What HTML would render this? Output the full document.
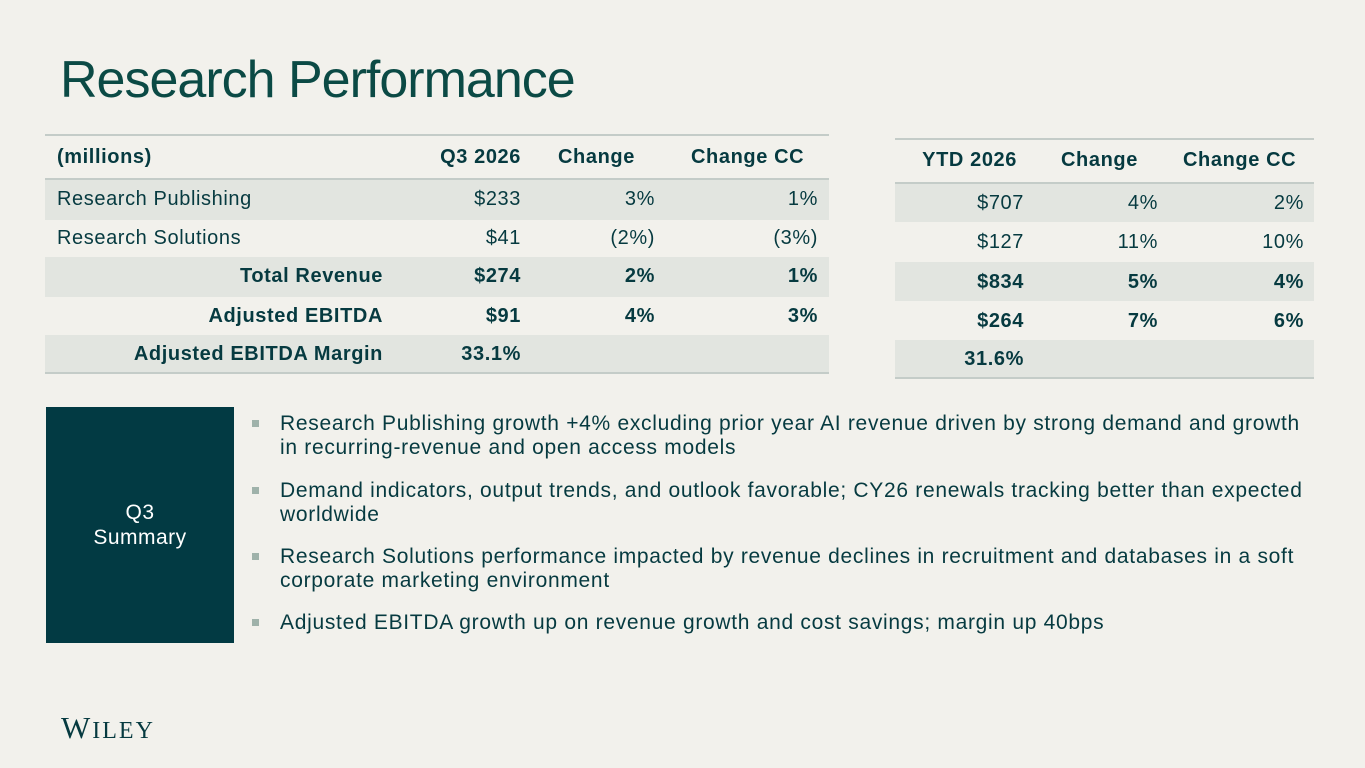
<!DOCTYPE html>
<html><head><meta charset="utf-8"><style>
body{margin:0;width:1365px;height:768px;background:#f2f1ec;font-family:"Liberation Sans",sans-serif;color:#063a40;position:relative;overflow:hidden}
.a{position:absolute}
.c{position:absolute;font-size:20px;line-height:24px;white-space:nowrap;letter-spacing:0.6px}
.r{text-align:right}
.b{font-weight:bold}
.sh{position:absolute;background:#e2e5e0}
.ln{position:absolute;height:2px;background:#c4ccc8}
.bul{position:absolute;font-size:21px;line-height:24px;color:#063a40;letter-spacing:0.7px;white-space:nowrap}
.sq{position:absolute;width:7px;height:7px;background:#9fb2aa}
</style></head><body>
<div class="a" style="left:60px;top:48px;font-size:52px;line-height:64px;color:#0b4a45;letter-spacing:-1px">Research Performance</div>

<div>
<div class="ln" style="left:45px;top:134px;width:784px"></div>
<div class="ln" style="left:45px;top:178px;width:784px"></div>
<div class="sh" style="left:45px;top:180px;width:784px;height:40px"></div>
<div class="sh" style="left:45px;top:257px;width:784px;height:40px"></div>
<div class="sh" style="left:45px;top:335px;width:784px;height:37px"></div>
<div class="ln" style="left:45px;top:372px;width:784px"></div>
<div class="c b" style="left:57px;top:145px">(millions)</div>
<div class="c b r" style="right:844px;top:145px">Q3 2026</div>
<div class="c b" style="left:558px;top:145px">Change</div>
<div class="c b" style="left:691px;top:145px">Change CC</div>
<div class="c" style="left:57px;top:187px">Research Publishing</div>
<div class="c r" style="right:844px;top:187px">$233</div>
<div class="c r" style="right:710px;top:187px">3%</div>
<div class="c r" style="right:547px;top:187px">1%</div>
<div class="c" style="left:57px;top:226px">Research Solutions</div>
<div class="c r" style="right:844px;top:226px">$41</div>
<div class="c r" style="right:710px;top:226px">(2%)</div>
<div class="c r" style="right:547px;top:226px">(3%)</div>
<div class="c b r" style="right:982px;top:264px">Total Revenue</div>
<div class="c b r" style="right:844px;top:264px">$274</div>
<div class="c b r" style="right:710px;top:264px">2%</div>
<div class="c b r" style="right:547px;top:264px">1%</div>
<div class="c b r" style="right:982px;top:304px">Adjusted EBITDA</div>
<div class="c b r" style="right:844px;top:304px">$91</div>
<div class="c b r" style="right:710px;top:304px">4%</div>
<div class="c b r" style="right:547px;top:304px">3%</div>
<div class="c b r" style="right:982px;top:342px">Adjusted EBITDA Margin</div>
<div class="c b r" style="right:844px;top:342px">33.1%</div>
</div>

<div>
<div class="ln" style="left:895px;top:138px;width:419px"></div>
<div class="ln" style="left:895px;top:182px;width:419px"></div>
<div class="sh" style="left:895px;top:184px;width:419px;height:38px"></div>
<div class="sh" style="left:895px;top:262px;width:419px;height:39px"></div>
<div class="sh" style="left:895px;top:340px;width:419px;height:37px"></div>
<div class="ln" style="left:895px;top:377px;width:419px"></div>
<div class="c b r" style="right:348px;top:148px">YTD 2026</div>
<div class="c b" style="left:1061px;top:148px">Change</div>
<div class="c b" style="left:1183px;top:148px">Change CC</div>
<div class="c r" style="right:341px;top:191px">$707</div>
<div class="c r" style="right:207px;top:191px">4%</div>
<div class="c r" style="right:61px;top:191px">2%</div>
<div class="c r" style="right:341px;top:230px">$127</div>
<div class="c r" style="right:207px;top:230px">11%</div>
<div class="c r" style="right:61px;top:230px">10%</div>
<div class="c b r" style="right:341px;top:270px">$834</div>
<div class="c b r" style="right:207px;top:270px">5%</div>
<div class="c b r" style="right:61px;top:270px">4%</div>
<div class="c b r" style="right:341px;top:309px">$264</div>
<div class="c b r" style="right:207px;top:309px">7%</div>
<div class="c b r" style="right:61px;top:309px">6%</div>
<div class="c b r" style="right:341px;top:347px">31.6%</div>
</div>

<div class="a" style="left:46px;top:407px;width:188px;height:236px;background:#023a43;color:#fff;font-size:21px;line-height:25px;letter-spacing:0.5px;text-align:center;display:flex;align-items:center;justify-content:center">Q3<br>Summary</div>

<div>
<div class="sq" style="left:252px;top:420px"></div>
<div class="bul" style="left:280px;top:412px">Research Publishing growth +4% excluding prior year AI revenue driven by strong demand and growth<br>in recurring-revenue and open access models</div>
<div class="sq" style="left:252px;top:487px"></div>
<div class="bul" style="left:280px;top:479px">Demand indicators, output trends, and outlook favorable; CY26 renewals tracking better than expected<br>worldwide</div>
<div class="sq" style="left:252px;top:553px"></div>
<div class="bul" style="left:280px;top:545px">Research Solutions performance impacted by revenue declines in recruitment and databases in a soft<br>corporate marketing environment</div>
<div class="sq" style="left:252px;top:619px"></div>
<div class="bul" style="left:280px;top:611px">Adjusted EBITDA growth up on revenue growth and cost savings; margin up 40bps</div>
</div>

<div class="a" style="left:61px;top:712px;font-family:'Liberation Serif',serif;font-size:31px;line-height:32px;color:#063a40;letter-spacing:2px">W<span style="font-size:24px">ILEY</span></div>
</body></html>
